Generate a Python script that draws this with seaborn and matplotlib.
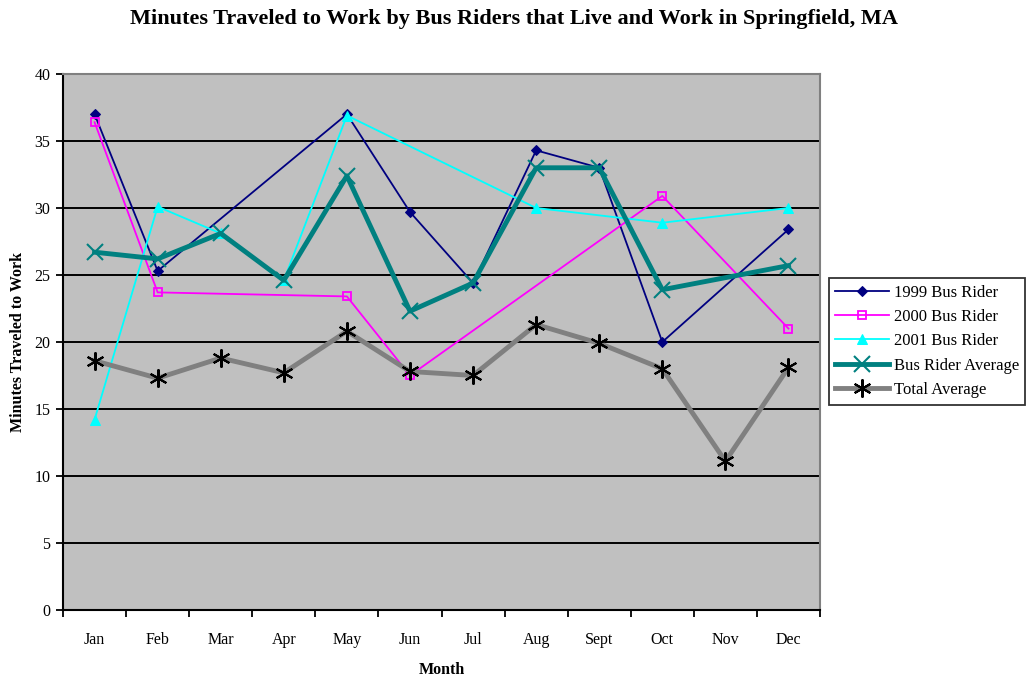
import numpy as np
import pandas as pd
import matplotlib
matplotlib.use('Agg')
import matplotlib.pyplot as plt
import seaborn as sns

months = ['Jan', 'Feb', 'Mar', 'Apr', 'May', 'Jun', 'Jul', 'Aug', 'Sept', 'Oct', 'Nov', 'Dec']
nan = np.nan
rider_1999 = [37.0, 25.3, nan, nan, 37.0, 29.7, 24.4, 34.3, 33.0, 20.0, nan, 28.4]
rider_2000 = [36.4, 23.7, nan, nan, 23.4, 17.5, nan, nan, nan, 30.9, nan, 21.0]
rider_2001 = [14.2, 30.1, 28.1, 24.6, 36.9, nan, nan, 30.0, nan, 28.9, nan, 30.0]
rider_avg = [26.7, 26.2, 28.1, 24.6, 32.4, 22.3, 24.4, 33.0, 33.0, 23.9, nan, 25.7]
total_avg = [18.6, 17.3, 18.8, 17.7, 20.8, 17.8, 17.5, 21.3, 19.9, 18.0, 11.1, 18.1]

plt.rcParams['font.family'] = ['Liberation Serif', 'DejaVu Serif']

fig, ax = plt.subplots(figsize=(10.28, 6.78), dpi=100)
fig.subplots_adjust(left=0.0613, right=0.7977, bottom=0.1003, top=0.8909)
ax.set_facecolor('#C0C0C0')

x = np.arange(len(months))
series = [
    ('1999 Bus Rider', rider_1999, dict(color='#000080', lw=1.3, marker='D', ms=5, mec='#000080')),
    ('2000 Bus Rider', rider_2000, dict(color='#FF00FF', lw=1.3, marker='s', ms=6, mfc='none', mec='#FF00FF', mew=1.3)),
    ('2001 Bus Rider', rider_2001, dict(color='#00FFFF', lw=1.3, marker='^', ms=7, mec='#00FFFF')),
    ('Bus Rider Average', rider_avg, dict(color='#008080', lw=3.5, marker='x', ms=11, mec='#008080', mew=1.5)),
    ('Total Average', total_avg, dict(color='#808080', lw=3.5, marker=(6, 2, 0), ms=13, mec='black', mew=1.5)),
]
for name, vals, st in series:
    df = pd.DataFrame({'month': x, 'minutes': vals}).dropna()
    sns.lineplot(data=df, x='month', y='minutes', ax=ax, label=name, **st)

ax.set_xlim(-0.5, 11.5)
ax.set_ylim(0, 40)
ax.set_yticks(range(0, 41, 5))
ax.yaxis.grid(True, color='black', lw=1.4)
ax.set_axisbelow(True)

# ticks on the category boundaries, labels in the middle
ax.set_xticks(np.arange(-0.5, 12, 1))
ax.set_xticklabels([])
ax.set_xticks(x, minor=True)
ax.set_xticklabels(months, minor=True)
ax.tick_params(axis='x', which='major', length=5, width=1.3, direction='out')
ax.tick_params(axis='x', which='minor', length=0, pad=16, labelsize=11.5)
ax.tick_params(axis='y', length=5, width=1.3, direction='out', pad=4, labelsize=11.5)

for side in ['left', 'bottom']:
    ax.spines[side].set_color('black')
    ax.spines[side].set_linewidth(1.5)
for side in ['top', 'right']:
    ax.spines[side].set_color('#808080')
    ax.spines[side].set_linewidth(1.5)

ax.set_xlabel('Month', fontsize=11.5, fontweight='bold', labelpad=10)
ax.set_ylabel('Minutes Traveled to Work', fontsize=11.5, fontweight='bold', labelpad=6)
fig.suptitle('Minutes Traveled to Work by Bus Riders that Live and Work in Springfield, MA',
             fontsize=16, fontweight='bold', y=0.972, va='center')

leg = ax.legend(loc='upper left', bbox_to_anchor=(0.806, 0.59), bbox_transform=fig.transFigure,
                frameon=True, fancybox=False, edgecolor='black', fontsize=12,
                handlelength=3.2, handletextpad=0.3, labelspacing=0.5,
                borderpad=0.4, borderaxespad=0)
leg.get_frame().set_linewidth(1.3)

fig.savefig('out.png', dpi=100)
